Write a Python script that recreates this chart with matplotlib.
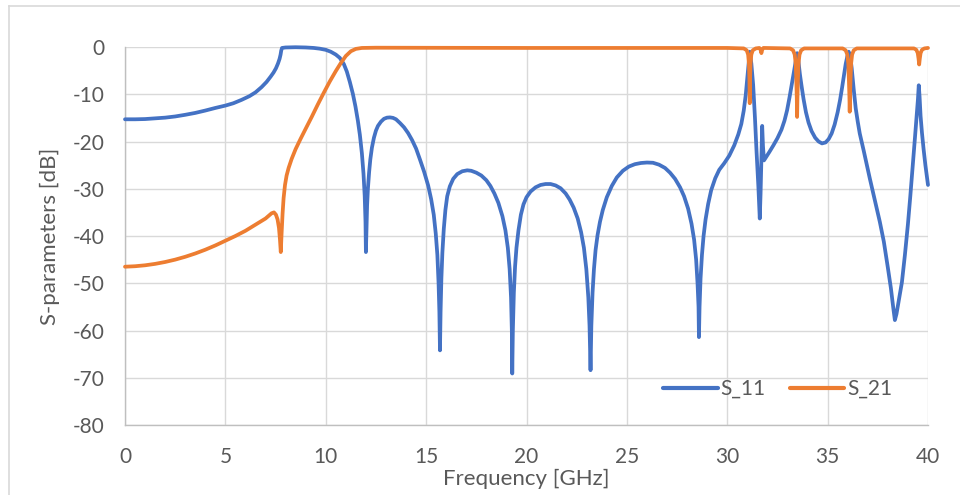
import matplotlib
matplotlib.use("Agg")
import matplotlib.pyplot as plt
from matplotlib.lines import Line2D

plt.rcParams['font.family'] = ['Lato', 'DejaVu Sans']
plt.rcParams['axes.unicode_minus'] = False

# S11 magnitude (dB) vs frequency (GHz)
freq_s11 = [
    0.0, 0.5, 1.0, 1.5, 2.0, 2.5, 3.0, 3.5, 4.0, 4.5, 5.0, 5.4, 5.8, 6.2, 6.5, 6.8, 7.05,
    7.25, 7.4, 7.52, 7.62, 7.7, 7.75, 7.78, 7.82, 8.0, 8.5, 9.0, 9.4, 9.7, 10.0, 10.25,
    10.5, 10.7, 10.9, 11.05, 11.2, 11.35, 11.48, 11.6, 11.7, 11.8, 11.88, 11.94, 11.98, 12.0,
    12.03, 12.06, 12.1, 12.16, 12.22, 12.3, 12.4, 12.5, 12.6, 12.75, 12.9, 13.05, 13.2,
    13.35, 13.5, 13.7, 13.9, 14.1, 14.3, 14.5, 14.7, 14.9, 15.1, 15.25, 15.38, 15.48,
    15.56, 15.62, 15.66, 15.69, 15.72, 15.76, 15.81, 15.88, 15.96, 16.05, 16.18, 16.35,
    16.55, 16.8, 17.05, 17.25, 17.5, 17.75, 18.0, 18.2, 18.4, 18.6, 18.8, 18.95, 19.07,
    19.16, 19.23, 19.27, 19.29, 19.32, 19.37, 19.43, 19.5, 19.6, 19.72, 19.85, 20.0, 20.2,
    20.45, 20.7, 20.95, 21.2, 21.45, 21.7, 21.95, 22.15, 22.35, 22.55, 22.72, 22.86, 22.98,
    23.08, 23.14, 23.19, 23.23, 23.29, 23.36, 23.44, 23.54, 23.66, 23.8, 24.0, 24.25, 24.5,
    24.8, 25.1, 25.4, 25.7, 26.0, 26.3, 26.6, 26.9, 27.15, 27.4, 27.65, 27.85, 28.05, 28.22,
    28.35, 28.45, 28.52, 28.57, 28.59, 28.62, 28.67, 28.74, 28.82, 28.92, 29.05, 29.2, 29.4,
    29.6, 29.85, 30.1, 30.35, 30.55, 30.7, 30.82, 30.92, 31.0, 31.06, 31.12, 31.2, 31.29,
    31.38, 31.46, 31.55, 31.62, 31.66, 31.7, 31.74, 31.78, 31.83, 31.95, 32.1, 32.3, 32.5,
    32.7, 32.85, 32.98, 33.1, 33.2, 33.3, 33.4, 33.48, 33.55, 33.62, 33.7, 33.8, 33.92,
    34.05, 34.2, 34.38, 34.55, 34.72, 34.9, 35.05, 35.2, 35.35, 35.5, 35.62, 35.72, 35.82,
    35.9, 35.98, 36.05, 36.12, 36.2, 36.3, 36.4, 36.5, 36.6, 36.8, 37.1, 37.35, 37.6, 37.8,
    38.0, 38.15, 38.27, 38.35, 38.43, 38.55, 38.7, 38.85, 39.0, 39.12, 39.24, 39.35, 39.44,
    39.5, 39.54, 39.58, 39.63, 39.7, 39.78, 39.87, 39.95, 40.0,
]
s11_db = [
    -15.3, -15.3, -15.25, -15.1, -14.95, -14.7, -14.35, -13.95, -13.45, -12.9, -12.4, -11.9, -11.2, -10.4, -9.6, -8.5, -7.4,
    -6.3, -5.4, -4.5, -3.5, -2.5, -1.6, -0.8, -0.2, -0.1, -0.05, -0.1, -0.2, -0.35, -0.6, -1.0,
    -1.6, -2.3, -3.6, -5.2, -7.4, -9.9, -12.6, -15.6, -18.6, -22.5, -26.8, -31.5, -37.0, -43.4,
    -38.0, -33.5, -30.0, -26.5, -23.8, -21.3, -19.2, -17.7, -16.7, -15.8, -15.2, -14.95, -14.9,
    -15.0, -15.3, -16.1, -17.0, -18.2, -19.7, -21.5, -23.9, -26.4, -29.3, -32.2, -35.5, -39.5,
    -44.0, -50.0, -56.0, -64.2, -56.0, -49.0, -43.5, -38.5, -34.5, -31.6, -29.5, -27.9,
    -26.9, -26.3, -26.1, -26.2, -26.6, -27.2, -28.2, -29.4, -31.0, -33.0, -35.8, -38.8, -42.5,
    -47.0, -53.0, -60.0, -69.1, -60.0, -52.0, -46.5, -42.5, -38.8, -35.5, -33.3, -31.8, -30.6,
    -29.7, -29.2, -29.0, -29.0, -29.3, -29.9, -31.0, -32.3, -34.0, -36.3, -39.2, -42.5, -47.0,
    -53.0, -59.0, -68.4, -59.0, -52.0, -47.0, -43.0, -39.8, -37.0, -34.5, -31.8, -29.4, -27.6,
    -26.2, -25.3, -24.8, -24.55, -24.45, -24.5, -24.9, -25.6, -26.6, -27.9, -29.7, -31.6, -34.2, -37.4,
    -40.8, -45.0, -50.0, -55.0, -61.4, -55.0, -49.0, -44.0, -40.0, -36.5, -33.2, -30.3, -27.8,
    -26.0, -24.6, -23.0, -20.8, -18.5, -16.3, -13.5, -10.2, -6.5, -3.5, -1.0, -3.5, -8.0,
    -15.0, -22.2, -29.5, -36.3, -31.0, -24.0, -16.7, -21.0, -24.0, -23.2, -22.2, -20.8, -19.3,
    -17.5, -15.6, -13.4, -10.7, -8.3, -5.8, -3.3, -1.3, -3.2, -5.8, -8.2, -11.0, -13.8,
    -16.0, -17.8, -19.2, -20.0, -20.4, -20.2, -19.5, -18.3, -16.4, -13.8, -11.2, -8.6, -5.8,
    -3.6, -2.0, -1.0, -1.8, -4.5, -9.0, -13.0, -15.8, -18.3, -22.0, -27.8, -32.4, -37.0, -41.2,
    -46.7, -51.0, -55.2, -57.8, -56.5, -53.5, -49.8, -44.0, -37.5, -31.5, -25.2, -19.2, -14.2,
    -11.0, -8.1, -10.5, -14.6, -18.2, -21.6, -25.0, -27.6, -29.2,
]

# S21 magnitude (dB) vs frequency (GHz)
freq_s21 = [
    0.0, 0.5, 1.0, 1.5, 2.0, 2.5, 3.0, 3.5, 4.0, 4.5, 5.0, 5.5, 6.0, 6.5, 7.0, 7.3, 7.42,
    7.52, 7.6, 7.67, 7.72, 7.76, 7.8, 7.85, 7.9, 7.97, 8.05, 8.15, 8.3, 8.5, 8.75, 9.0,
    9.3, 9.6, 9.9, 10.2, 10.5, 10.75, 11.0, 11.25, 11.5, 11.8, 12.5, 20.0, 30.0,
    30.82, 30.97, 31.04, 31.08, 31.105, 31.12, 31.135, 31.16, 31.2, 31.27, 31.42,
    31.6, 31.66, 31.7, 31.74, 31.8,
    33.13, 33.28, 33.36, 33.41, 33.44, 33.465, 33.48, 33.495, 33.52, 33.55, 33.6, 33.68, 33.83,
    35.75, 35.9, 35.98, 36.03, 36.06, 36.085, 36.1, 36.115, 36.14, 36.17, 36.22, 36.3, 36.45,
    39.3, 39.42, 39.49, 39.53, 39.56, 39.59, 39.63, 39.7, 39.82, 40.0,
]
s21_db = [
    -46.5, -46.4, -46.2, -45.9, -45.5, -45.0, -44.4, -43.7, -42.9, -42.0, -41.0, -40.0, -38.9, -37.6, -36.3, -35.2, -35.0,
    -35.5, -36.5, -38.3, -40.8, -43.4, -39.5, -35.2, -32.0, -29.2, -27.2, -25.6, -23.7, -21.6, -19.4, -17.3,
    -14.8, -12.2, -9.7, -7.3, -5.1, -3.4, -1.9, -0.9, -0.4, -0.2, -0.15, -0.2, -0.2,
    -0.3, -0.7, -1.6, -3.5, -7.0, -11.9, -7.0, -3.5, -1.6, -0.7, -0.3,
    -0.2, -0.6, -1.3, -0.6, -0.2,
    -0.3, -0.7, -1.6, -3.5, -7.0, -11.0, -14.8, -11.0, -7.0, -3.5, -1.6, -0.7, -0.3,
    -0.3, -0.7, -1.6, -3.5, -7.0, -10.5, -13.7, -10.5, -7.0, -3.5, -1.6, -0.7, -0.3,
    -0.3, -0.6, -1.3, -2.5, -3.7, -2.5, -1.3, -0.6, -0.3, -0.2,
]

x_ticks = [0, 5, 10, 15, 20, 25, 30, 35, 40]
y_ticks = [0, -10, -20, -30, -40, -50, -60, -70, -80]

blue = '#4472C4'
orange = '#ED7D31'
text_grey = '#595959'
grid_grey = '#D9D9D9'

fig = plt.figure(figsize=(9.6, 4.95), dpi=100)
fig.patch.set_facecolor('white')

# chart-area outline (left and top edges)
W, H = 960.0, 495.0
fig.add_artist(Line2D([9 / W, 9 / W], [1 - 6 / H, 0.0], transform=fig.transFigure,
                      color=grid_grey, lw=1.2))
fig.add_artist(Line2D([9 / W, 1.0], [1 - 6 / H, 1 - 6 / H], transform=fig.transFigure,
                      color=grid_grey, lw=1.2))

ax = fig.add_axes([125 / W, 1 - 425 / H, (928 - 125) / W, (425 - 47) / H])
ax.set_xlim(0, 40)
ax.set_ylim(-80, 0)
ax.set_xticks(x_ticks)
ax.set_yticks(y_ticks)
ax.grid(True, color=grid_grey, lw=1.0)
ax.set_axisbelow(True)
for side in ['top', 'right']:
    ax.spines[side].set_visible(False)
for side in ['left', 'bottom']:
    ax.spines[side].set_color('#BFBFBF')
    ax.spines[side].set_linewidth(1.0)
ax.tick_params(length=0, labelsize=15, colors=text_grey)
ax.tick_params(axis='y', pad=15)
ax.tick_params(axis='x', pad=16)

ax.plot(freq_s11, s11_db, color=blue, lw=2.7, solid_joinstyle='round',
        solid_capstyle='round', label='S_11', clip_on=False, zorder=3)
ax.plot(freq_s21, s21_db, color=orange, lw=2.7, solid_joinstyle='round',
        solid_capstyle='round', label='S_21', clip_on=False, zorder=4)

ax.set_xlabel('Frequency [GHz]', fontsize=16, color=text_grey, labelpad=1)
ax.set_ylabel('S-parameters [dB]', fontsize=16, color=text_grey, labelpad=9)

leg = ax.legend(loc='center', bbox_to_anchor=(0.813, 0.095), ncol=2, frameon=False,
                fontsize=15, handlelength=2.6, handletextpad=0.15, columnspacing=1.15,
                borderpad=0, borderaxespad=0, labelcolor=text_grey)
for h in leg.get_lines():
    h.set_linewidth(3.0)

fig.savefig('out.png', dpi=100, facecolor='white')
